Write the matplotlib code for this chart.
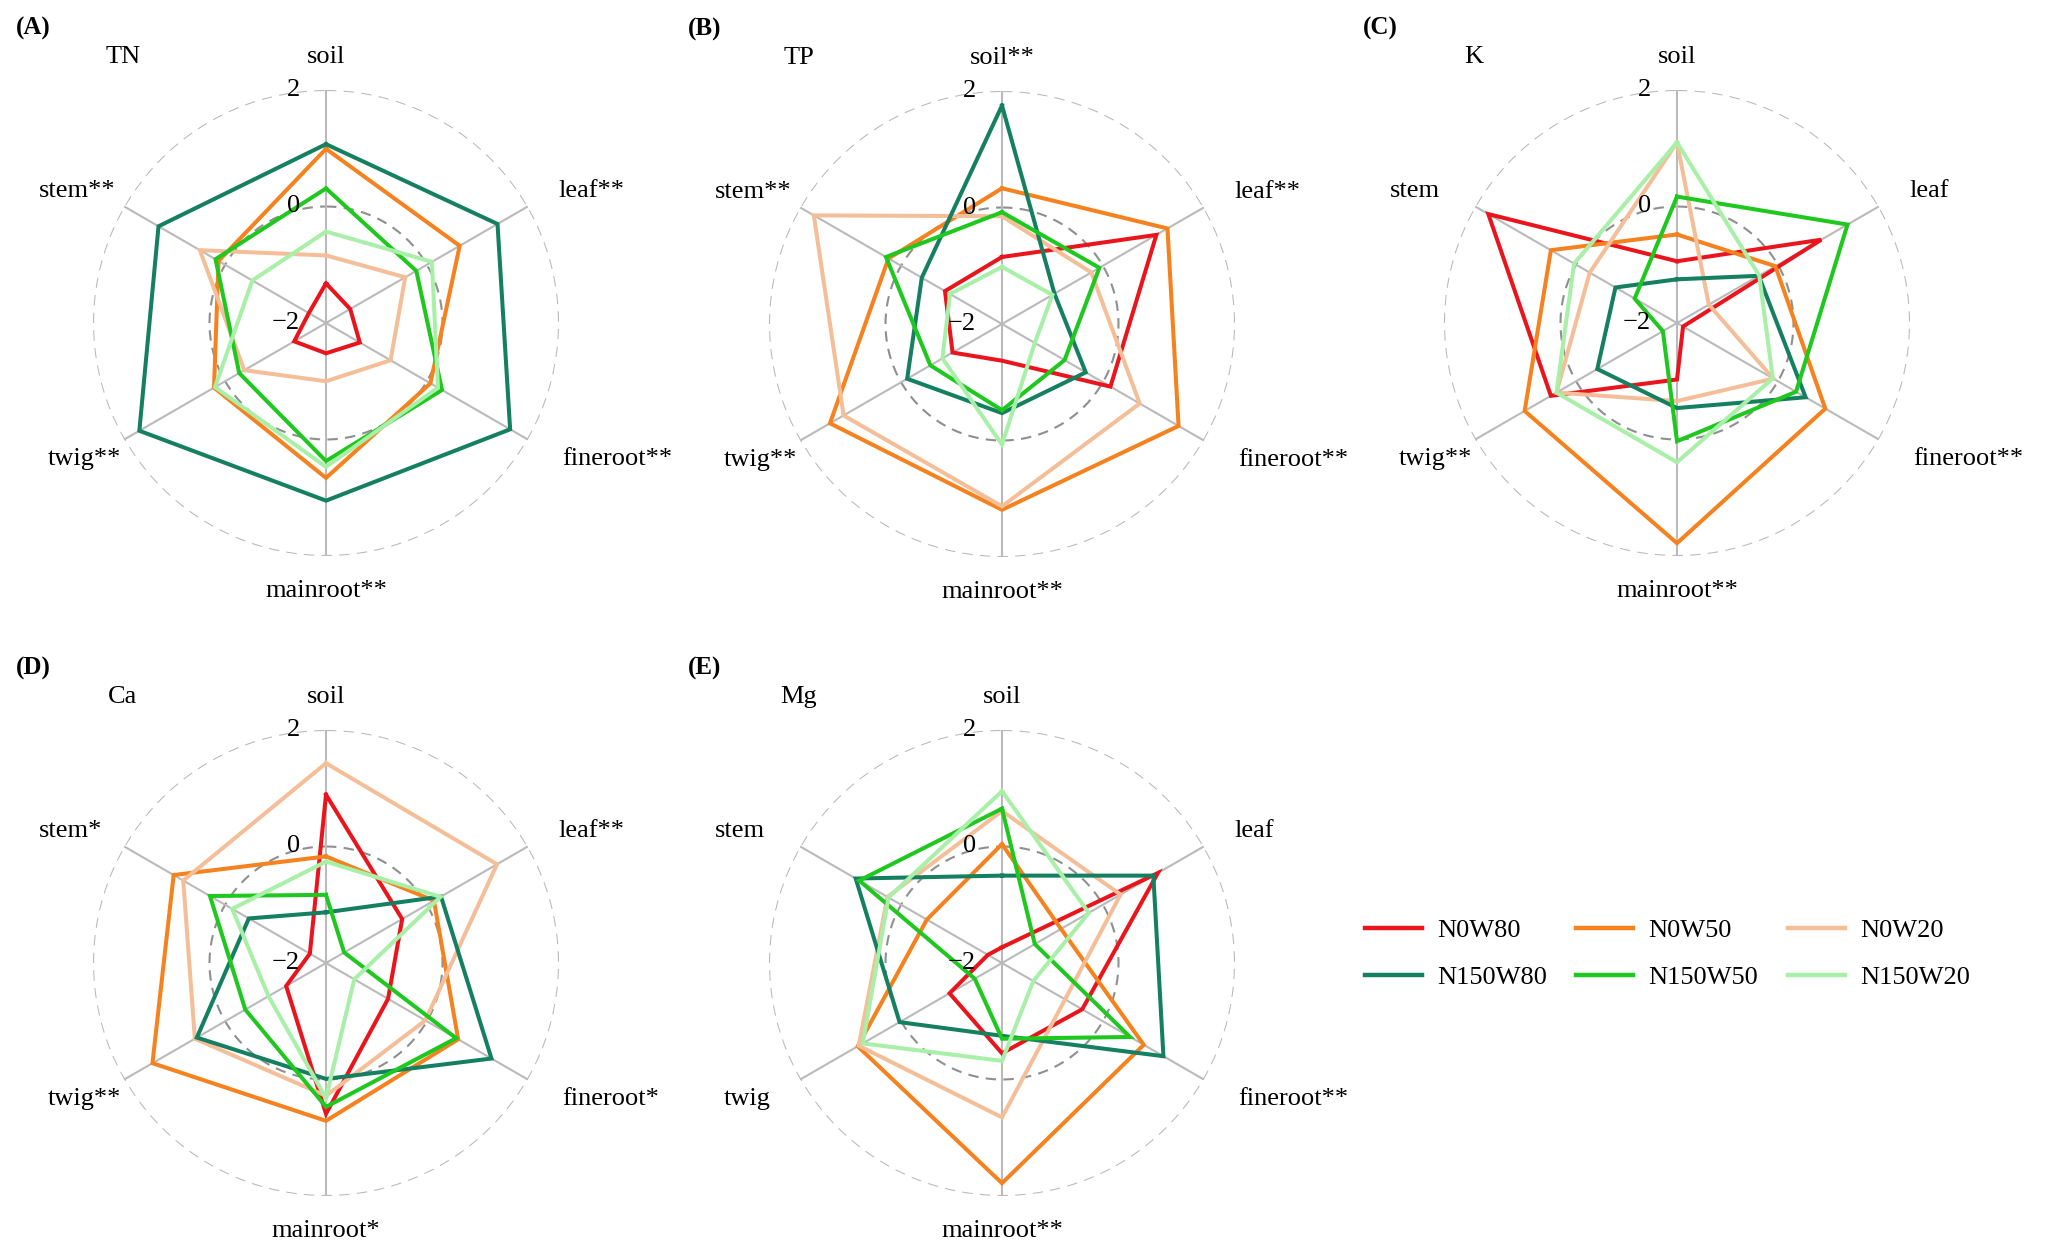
import numpy as np
import matplotlib
matplotlib.use('Agg')
import matplotlib.pyplot as plt
from matplotlib.lines import Line2D

plt.rcParams['font.family'] = ['Liberation Serif', 'DejaVu Serif']

# treatments (row order of every element table)
treatments = ['N0W80', 'N0W50', 'N0W20', 'N150W80', 'N150W50', 'N150W20']
colors = ['#ea141c', '#f5821e', '#f4bf98', '#148060', '#1ec81e', '#a8f0a8']

# spoke order clockwise from the top: soil, leaf, fineroot, mainroot, twig, stem
TN = [[-1.32, -1.52, -1.33, -1.48, -1.37, -1.66],
      [0.99, 0.65, 0.07, 0.66, 0.22, 0.13],
      [-0.84, -0.43, -0.72, -1.00, -0.38, 0.50],
      [1.07, 1.40, 1.65, 1.05, 1.70, 1.32],
      [0.31, -0.21, 0.30, 0.37, -0.28, 0.19],
      [-0.43, 0.10, 0.22, 0.47, 0.20, -0.54]]
TP = [[-0.85, 1.06, 0.15, -1.37, -1.02, -0.87],
      [0.33, 1.28, 1.50, 1.19, 1.41, 0.25],
      [-0.15, -0.23, 0.73, 1.13, 1.14, 1.73],
      [1.75, -0.96, -0.34, -0.47, -0.12, -0.41],
      [-0.08, -0.07, -0.76, -0.52, -0.58, 0.30],
      [-1.02, -1.00, -1.35, 0.07, -0.82, -0.97]]
K = [[-0.94, 0.86, -1.88, -1.03, 0.50, 1.74],
     [-0.48, -0.05, 0.94, 1.78, 1.02, 0.50],
     [1.10, -1.37, -0.09, -0.66, 0.39, -0.27],
     [-1.25, -0.38, 0.55, -0.54, -0.42, -0.78],
     [0.17, 1.38, 0.36, 0.03, -1.72, -1.16],
     [1.10, -0.37, -0.10, 0.39, 0.39, 0.04]]
Ca = [[0.89, -0.49, -0.77, 0.59, -1.21, -1.68],
      [-0.17, 0.14, 0.62, 0.71, 1.44, 1.02],
      [1.43, 1.39, -0.03, 0.28, 0.60, 0.83],
      [-1.13, 0.28, 1.28, -0.01, 0.56, -0.47],
      [-0.83, -1.64, 0.58, 0.47, -0.40, 0.30],
      [-0.26, 0.27, -1.44, 0.32, -0.86, -0.14]]
Mg = [[-1.73, 1.09, -0.41, -0.45, -0.96, -1.72],
      [0.04, -0.83, 0.81, 1.78, 0.86, -0.51],
      [0.61, 0.35, -0.75, 0.65, 0.84, 0.27],
      [-0.50, 1.00, 1.20, -0.75, 0.03, 0.90],
      [0.65, -1.35, 0.54, -0.70, -1.46, 0.83],
      [0.95, -0.28, -1.38, -0.32, 0.76, 0.25]]

labels_TN = ['soil', 'leaf**', 'fineroot**', 'mainroot**', 'twig**', 'stem**']
labels_TP = ['soil**', 'leaf**', 'fineroot**', 'mainroot**', 'twig**', 'stem**']
labels_K = ['soil', 'leaf', 'fineroot**', 'mainroot**', 'twig**', 'stem']
labels_Ca = ['soil', 'leaf**', 'fineroot*', 'mainroot*', 'twig**', 'stem*']
labels_Mg = ['soil', 'leaf', 'fineroot**', 'mainroot**', 'twig', 'stem']

panels = [('(A)', 'TN', TN, labels_TN, (326, 323)),
          ('(B)', 'TP', TP, labels_TP, (1002, 324)),
          ('(C)', 'K', K, labels_K, (1677, 323)),
          ('(D)', 'Ca', Ca, labels_Ca, (326, 963)),
          ('(E)', 'Mg', Mg, labels_Mg, (1002, 963))]

W, H = 2046, 1246
R = 233  # radius in pixels
fig = plt.figure(figsize=(W / 100, H / 100), dpi=100)

theta = np.linspace(0, 2 * np.pi, 6, endpoint=False)
circ = np.linspace(0, 2 * np.pi, 400)
fs = 19

# label positions in axes fraction (ha)
lab_pos = [(0.5, 1.071, 'center'), (0.998, 0.783, 'left'), (1.006, 0.208, 'left'),
           (0.5, -0.075, 'center'), (-0.097, 0.208, 'left'), (-0.116, 0.783, 'left')]

for letter, elem, data, labs, (cx, cy) in panels:
    ax = fig.add_axes([(cx - R) / W, (H - cy - R) / H, 2 * R / W, 2 * R / H],
                      projection='polar')
    ax.set_theta_offset(np.pi / 2)
    ax.set_theta_direction(-1)
    ax.set_ylim(-2, 2)
    ax.axis('off')

    # grid
    ax.plot(circ, np.full_like(circ, 2), color='#b8b8b8', lw=1.5, ls=(0, (5, 3.5)))
    ax.plot(circ, np.full_like(circ, 0), color='#8f8f8f', lw=1.5, ls=(0, (5, 3.5)))
    for t in theta:
        ax.plot([t, t], [-2, 2], color='#bababa', lw=1.5)

    for vals, c in zip(data, colors):
        v = list(vals) + [vals[0]]
        th = list(theta) + [theta[0]]
        ax.plot(th, v, color=c, lw=2.9, solid_joinstyle='miter')

    for (x, y, ha), s in zip(lab_pos, labs):
        ax.text(x, y, s, transform=ax.transAxes, ha=ha, va='center', fontsize=fs)
    ax.text(0.064, 1.071, elem, transform=ax.transAxes, ha='center', va='center', fontsize=fs)

    # radial tick labels
    for r in [2, 0, -2]:
        ax.text(0.444, 0.5 + (r + 2) / 8, '\u22122' if r == -2 else str(r),
                transform=ax.transAxes, ha='right', va='center', fontsize=fs)

    lx = cx - 293 if letter in ('(A)', '(D)') else cx - 297
    fig.text(lx / W, 1 - (cy - 295) / H, letter, ha='center', va='center',
             fontsize=18, fontweight='bold')

# legend filled by rows: N0 treatments on top, N150 below
order = [0, 3, 1, 4, 2, 5]
handles = [Line2D([], [], color=colors[i], lw=3.2) for i in order]
fig.legend(handles, [treatments[i] for i in order], ncol=3, loc='upper left',
           frameon=False, bbox_to_anchor=(1365 / W, 1 - 919 / H), fontsize=fs,
           handlelength=2.16, handletextpad=0.57, columnspacing=1.12,
           labelspacing=0.88, borderpad=0, borderaxespad=0)

fig.savefig('out.png', dpi=100)
